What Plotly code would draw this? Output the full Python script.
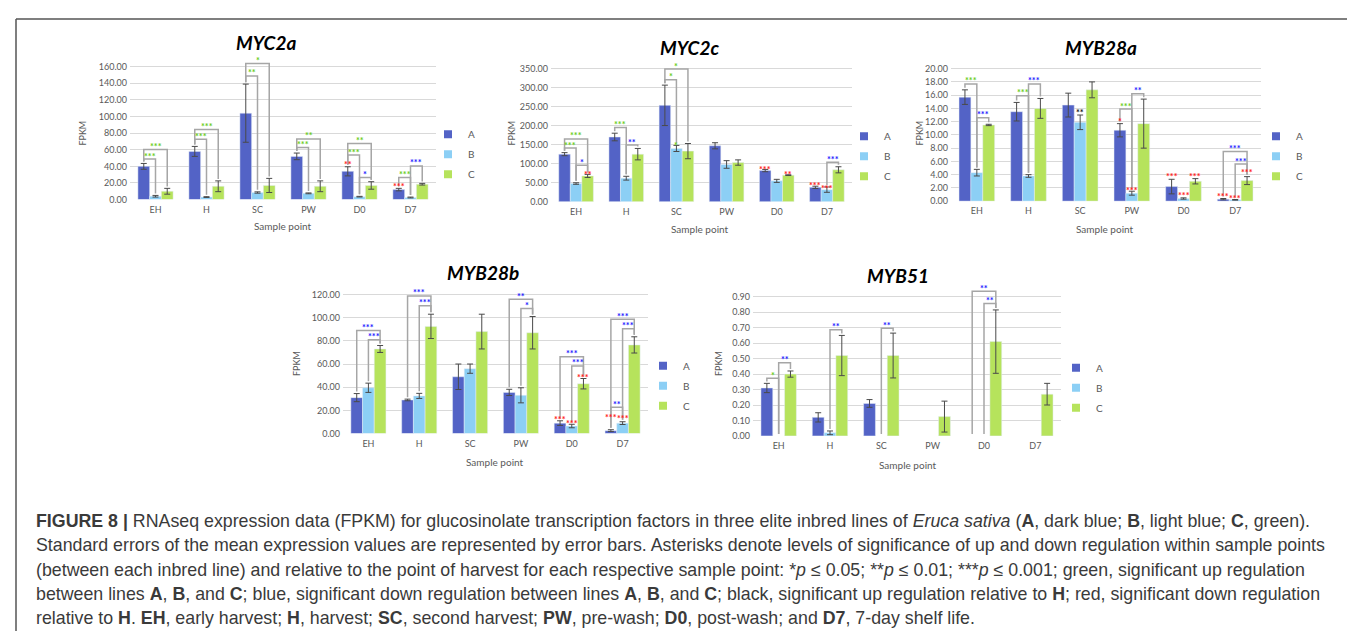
import plotly.graph_objects as go

W, H = 1355, 631

categories = ["EH", "H", "SC", "PW", "D0", "D7"]
series_names = ["A", "B", "C"]
series_colors = ["#5363c6", "#8ccff5", "#b6e35c"]

GREEN, BLUE, RED, BLACK = "#66cc22", "#1a1aff", "#ff1a1a", "#111111"

# ---------------- MYC2a ----------------
myc2a_A = [40, 58, 104, 52, 34, 12]
myc2a_B = [4, 3, 8.5, 7.5, 3.5, 2.5]
myc2a_C = [10, 16, 17, 16, 17, 18.5]
myc2a_A_err = [3.5, 6, 35, 4, 5.5, 1.5]
myc2a_B_err = [1, 0.5, 0.8, 0.5, 0.4, 0.5]
myc2a_C_err = [3.5, 6.5, 8.5, 6.5, 4.5, 1]
myc2a_ticks = [0, 20, 40, 60, 80, 100, 120, 140, 160]
# (category, from series, to series, bracket height, label, colour)
myc2a_brackets = [
    (0, 0, 1, 48.8, "***", GREEN), (0, 0, 2, 60.3, "***", GREEN),
    (1, 0, 1, 72.6, "***", GREEN), (1, 0, 2, 84.5, "***", GREEN),
    (2, 0, 1, 148.8, "**", GREEN), (2, 0, 2, 163.9, "*", GREEN),
    (3, 0, 1, 62.7, "***", GREEN), (3, 0, 2, 73.0, "**", GREEN),
    (4, 0, 1, 53.6, "***", GREEN), (4, 0, 2, 67.5, "**", GREEN), (4, 1, 2, 26.6, "*", BLUE),
    (5, 0, 1, 26.6, "***", GREEN), (5, 1, 2, 40.5, "***", BLUE),
]
# (category, series, label height, label, colour)
myc2a_marks = [(4, 0, 45.6, "**", RED), (5, 0, 19.8, "***", RED)]

# ---------------- MYC2c ----------------
myc2c_A = [125, 170, 253, 147, 82, 38]
myc2c_B = [48, 62, 140, 98, 55, 32]
myc2c_C = [68, 125, 133, 103, 70, 84]
myc2c_A_err = [4, 10, 53, 8, 3, 3]
myc2c_B_err = [2, 5, 8, 10, 4, 7]
myc2c_C_err = [4, 15, 20, 7, 1, 8]
myc2c_ticks = [0, 50, 100, 150, 200, 250, 300, 350]
myc2c_brackets = [
    (0, 0, 1, 141, "***", GREEN), (0, 0, 2, 165, "***", GREEN), (0, 1, 2, 96, "*", BLUE),
    (1, 0, 1, 195, "***", GREEN), (1, 1, 2, 149, "**", BLUE),
    (2, 0, 1, 320, "*", GREEN), (2, 0, 2, 348, "*", GREEN),
    (5, 1, 2, 104, "***", BLUE),
]
myc2c_marks = [
    (0, 2, 80.8, "**", RED), (2, 1, 156, "*", GREEN),
    (4, 0, 93.8, "***", RED), (4, 2, 80.8, "**", RED),
    (5, 0, 50.4, "***", RED), (5, 1, 43.4, "***", RED),
]

# ---------------- MYB28a ----------------
myb28a_A = [15.7, 13.5, 14.5, 10.7, 2.2, 0.3]
myb28a_B = [4.3, 3.8, 11.9, 1.2, 0.4, 0.2]
myb28a_C = [11.5, 14.0, 16.8, 11.7, 3.0, 3.1]
myb28a_A_err = [1.1, 1.4, 1.8, 1.0, 1.1, 0.1]
myb28a_B_err = [0.5, 0.2, 1.1, 0.3, 0.1, 0.05]
myb28a_C_err = [0.1, 1.5, 1.2, 3.7, 0.4, 0.6]
myb28a_ticks = [0, 2, 4, 6, 8, 10, 12, 14, 16, 18, 20]
myb28a_brackets = [
    (0, 0, 1, 17.7, "***", GREEN), (0, 1, 2, 12.6, "***", BLUE),
    (1, 0, 1, 15.9, "***", GREEN), (1, 1, 2, 17.7, "***", BLUE),
    (3, 0, 1, 13.9, "***", GREEN), (3, 1, 2, 16.2, "**", BLUE),
    (5, 0, 2, 7.5, "***", BLUE), (5, 1, 2, 5.6, "***", BLUE),
]
myb28a_marks = [
    (2, 1, 13.8, "**", BLACK),
    (3, 0, 12.4, "*", RED), (3, 1, 2.1, "***", RED),
    (4, 0, 4.1, "***", RED), (4, 1, 1.3, "***", RED), (4, 2, 4.1, "***", RED),
    (5, 0, 1.1, "***", RED), (5, 1, 0.9, "***", RED), (5, 2, 4.8, "***", RED),
]

# ---------------- MYB28b ----------------
myb28b_A = [31, 29, 49, 35.5, 9, 2.5]
myb28b_B = [39.5, 32.5, 56, 33, 6.5, 9]
myb28b_C = [73, 92.5, 88, 87, 43, 76.5]
myb28b_A_err = [3.5, 0.7, 11, 2.7, 2, 0.8]
myb28b_B_err = [4, 2.2, 4, 6.5, 1.5, 1.2]
myb28b_C_err = [3, 10.5, 15, 14, 4.5, 7]
myb28b_ticks = [0, 20, 40, 60, 80, 100, 120]
myb28b_brackets = [
    (0, 0, 2, 89, "***", BLUE), (0, 1, 2, 81, "***", BLUE),
    (1, 0, 2, 118.8, "***", BLUE), (1, 1, 2, 110.3, "***", BLUE),
    (3, 0, 2, 116, "**", BLUE), (3, 1, 2, 108, "*", BLUE),
    (4, 0, 2, 66.2, "***", BLUE), (4, 1, 2, 58.3, "***", BLUE),
    (5, 0, 2, 98.7, "***", BLUE), (5, 1, 2, 90.4, "***", BLUE), (5, 0, 1, 22.7, "**", BLUE),
]
myb28b_marks = [
    (4, 0, 15.0, "***", RED), (4, 1, 11.4, "***", RED), (4, 2, 51.2, "***", RED),
    (5, 0, 16.2, "***", RED), (5, 1, 15.6, "***", RED),
]

# ---------------- MYB51 ----------------
myb51_A = [0.31, 0.12, 0.21, 0, 0, 0]
myb51_B = [0, 0.02, 0, 0, 0, 0]
myb51_C = [0.40, 0.52, 0.52, 0.125, 0.61, 0.27]
myb51_A_err = [0.03, 0.03, 0.025, 0, 0, 0]
myb51_B_err = [0, 0.012, 0, 0, 0, 0]
myb51_C_err = [0.02, 0.13, 0.145, 0.1, 0.205, 0.07]
myb51_ticks = [0, 0.1, 0.2, 0.3, 0.4, 0.5, 0.6, 0.7, 0.8, 0.9]
myb51_brackets = [
    (0, 0, 1, 0.373, "*", GREEN), (0, 1, 2, 0.473, "**", BLUE),
    (1, 1, 2, 0.687, "**", BLUE),
    (2, 1, 2, 0.697, "**", BLUE),
    (4, 0, 2, 0.936, "**", BLUE), (4, 1, 2, 0.857, "**", BLUE),
]
myb51_marks = []

caption_lines = [
    "<b>FIGURE 8 |</b> RNAseq expression data (FPKM) for glucosinolate transcription factors in three elite inbred lines of <i>Eruca sativa</i> (<b>A</b>, dark blue; <b>B</b>, light blue; <b>C</b>, green).",
    "Standard errors of the mean expression values are represented by error bars. Asterisks denote levels of significance of up and down regulation within sample points",
    "(between each inbred line) and relative to the point of harvest for each respective sample point: *<i>p</i> ≤ 0.05; **<i>p</i> ≤ 0.01; ***<i>p</i> ≤ 0.001; green, significant up regulation",
    "between lines <b>A</b>, <b>B</b>, and <b>C</b>; blue, significant down regulation between lines <b>A</b>, <b>B</b>, and <b>C</b>; black, significant up regulation relative to <b>H</b>; red, significant down regulation",
    "relative to <b>H</b>. <b>EH</b>, early harvest; <b>H</b>, harvest; <b>SC</b>, second harvest; <b>PW</b>, pre-wash; <b>D0</b>, post-wash; and <b>D7</b>, 7-day shelf life.",
]

BARGAP = 0.31
BW = (1 - BARGAP) / 3
FONT = "Lato"
GREY_TXT = "#595959"

fig = go.Figure()
layout = {}
annotations = []


def px_x(p):
    return p / W


def px_y(p):
    return 1 - p / H


def center(cat, s):
    return cat + (s - 1) * BW


def add_chart(k, title, vals, errs, ticks, brackets, marks, tickfmt,
              xpx, y0px, ytoppx, ymax, title_pos, fpkm_pos, sp_pos, leg_pos):
    sfx = "" if k == 1 else str(k)
    xa, ya = "x" + sfx, "y" + sfx
    leg = "legend" + sfx
    ppu = (y0px - ytoppx) / ticks[-1]
    domain_top = y0px - ymax * ppu
    gap = 2.0 / ppu
    xs = list(range(len(categories)))
    for s in range(3):
        yv = [v if v > 0 else None for v in vals[s]]
        e = [v if v > 0 else None for v in errs[s]]
        fig.add_trace(go.Bar(
            x=xs, y=yv, name=series_names[s], marker_color=series_colors[s],
            error_y=dict(type="data", array=e, visible=True, color="#4a4a4a",
                         thickness=1, width=3),
            xaxis=xa, yaxis=ya, showlegend=False, hoverinfo="skip"))
    # legend entries (small square keys)
    for s in range(3):
        fig.add_trace(go.Scatter(
            x=[None], y=[None], mode="markers", name=series_names[s],
            marker=dict(symbol="square", size=8, color=series_colors[s]),
            xaxis=xa, yaxis=ya, legend=leg, legendgroup=f"{k}{s}", hoverinfo="skip"))
    # significance brackets
    bx, by = [], []
    for (c, s1, s2, yb, lab, col) in brackets:
        x1, x2 = center(c, s1), center(c, s2)
        y1 = vals[s1][c] + errs[s1][c] + gap
        y2 = vals[s2][c] + errs[s2][c] + gap
        bx += [x1, x1, x2, x2, None]
        by += [y1, yb, yb, y2, None]
        annotations.append(dict(x=(x1 + x2) / 2, y=yb, xref=xa, yref=ya, text=f"<b>{lab}</b>",
                                showarrow=False, yanchor="middle", yshift=3,
                                font=dict(family=FONT, size=9, color=col)))
    if bx:
        fig.add_trace(go.Scatter(x=bx, y=by, mode="lines", xaxis=xa, yaxis=ya,
                                 line=dict(color="#a6a6a6", width=1.5),
                                 showlegend=False, hoverinfo="skip"))
    for (c, s, yl, lab, col) in marks:
        annotations.append(dict(x=center(c, s), y=yl, xref=xa, yref=ya, text=f"<b>{lab}</b>",
                                showarrow=False, yanchor="middle", yshift=-3,
                                font=dict(family=FONT, size=9, color=col)))
    layout["xaxis" + sfx] = dict(
        domain=[px_x(xpx[0]), px_x(xpx[1])], range=[-0.5, len(categories) - 0.5],
        tickvals=xs, ticktext=categories, showgrid=False, zeroline=False,
        showline=False, ticks="", anchor=ya, ticklabelstandoff=3,
        tickfont=dict(family=FONT, size=9, color=GREY_TXT))
    layout["yaxis" + sfx] = dict(
        domain=[px_y(y0px), px_y(domain_top)], range=[0, ymax], tickvals=ticks,
        tickformat=tickfmt, showgrid=True, gridcolor="#d9d9d9", gridwidth=1,
        zeroline=False, showline=False, ticks="", anchor=xa, ticklabelstandoff=2,
        tickfont=dict(family=FONT, size=9, color=GREY_TXT))
    layout[leg] = dict(x=px_x(leg_pos[0]), y=px_y(leg_pos[1]), xanchor="left",
                       yanchor="top", bgcolor="rgba(0,0,0,0)", tracegroupgap=1,
                       font=dict(family=FONT, size=10, color=GREY_TXT))
    annotations.append(dict(x=px_x(title_pos[0]), y=px_y(title_pos[1]), xref="paper",
                            yref="paper", text=f"<b><i>{title}</i></b>", showarrow=False,
                            xanchor="center", yanchor="middle",
                            font=dict(family=FONT, size=19, color="#000000")))
    annotations.append(dict(x=px_x(fpkm_pos[0]), y=px_y(fpkm_pos[1]), xref="paper",
                            yref="paper", text="FPKM", showarrow=False, textangle=-90,
                            xanchor="center", yanchor="middle",
                            font=dict(family=FONT, size=9, color=GREY_TXT)))
    annotations.append(dict(x=px_x(sp_pos[0]), y=px_y(sp_pos[1]), xref="paper",
                            yref="paper", text="Sample point", showarrow=False,
                            xanchor="center", yanchor="middle",
                            font=dict(family=FONT, size=10, color=GREY_TXT)))


add_chart(1, "MYC2a", [myc2a_A, myc2a_B, myc2a_C], [myc2a_A_err, myc2a_B_err, myc2a_C_err],
          myc2a_ticks, myc2a_brackets, myc2a_marks, ".2f",
          (122, 428), 191.7, 57.3, 170, (258, 33), (75, 125), (275, 218), (420, 111))
add_chart(2, "MYC2c", [myc2c_A, myc2c_B, myc2c_C], [myc2c_A_err, myc2c_B_err, myc2c_C_err],
          myc2c_ticks, myc2c_brackets, myc2c_marks, ".2f",
          (543, 844), 194, 59, 362, (682, 38), (504, 125), (692, 221), (836, 113))
add_chart(3, "MYB28a", [myb28a_A, myb28a_B, myb28a_C], [myb28a_A_err, myb28a_B_err, myb28a_C_err],
          myb28a_ticks, myb28a_brackets, myb28a_marks, ".2f",
          (943, 1253), 193.3, 59.3, 20.6, (1093, 38), (912, 125), (1097, 221), (1248, 113))
add_chart(4, "MYB28b", [myb28b_A, myb28b_B, myb28b_C], [myb28b_A_err, myb28b_B_err, myb28b_C_err],
          myb28b_ticks, myb28b_brackets, myb28b_marks, ".2f",
          (335, 640), 428.3, 287.7, 125, (475, 265), (288, 358), (487, 457), (635, 345))
add_chart(5, "MYB51", [myb51_A, myb51_B, myb51_C], [myb51_A_err, myb51_B_err, myb51_C_err],
          myb51_ticks, myb51_brackets, myb51_marks, ".2f",
          (745, 1053), 430.7, 290, 0.96, (890, 268), (710, 358), (900, 460), (1048, 347))

caption_y = [517, 541.5, 566, 590.5, 615]
for line, yy in zip(caption_lines, caption_y):
    annotations.append(dict(x=px_x(26), y=px_y(yy), xref="paper", yref="paper",
                            text=line, showarrow=False, xanchor="left", yanchor="middle",
                            font=dict(family="Liberation Sans", size=17.8, color="#3a3a3a")))

shapes = [
    dict(type="line", xref="paper", yref="paper", x0=px_x(8), x1=1.0,
         y0=px_y(9), y1=px_y(9), line=dict(color="#555555", width=1.5)),
    dict(type="line", xref="paper", yref="paper", x0=px_x(8), x1=px_x(8),
         y0=px_y(9), y1=px_y(628), line=dict(color="#555555", width=1.5)),
]

fig.update_layout(
    width=W, height=H, margin=dict(l=0, r=0, t=0, b=0),
    paper_bgcolor="white", plot_bgcolor="white",
    barmode="group", bargap=BARGAP, bargroupgap=0,
    annotations=annotations, shapes=shapes, **layout)

fig.write_html("out.html")
